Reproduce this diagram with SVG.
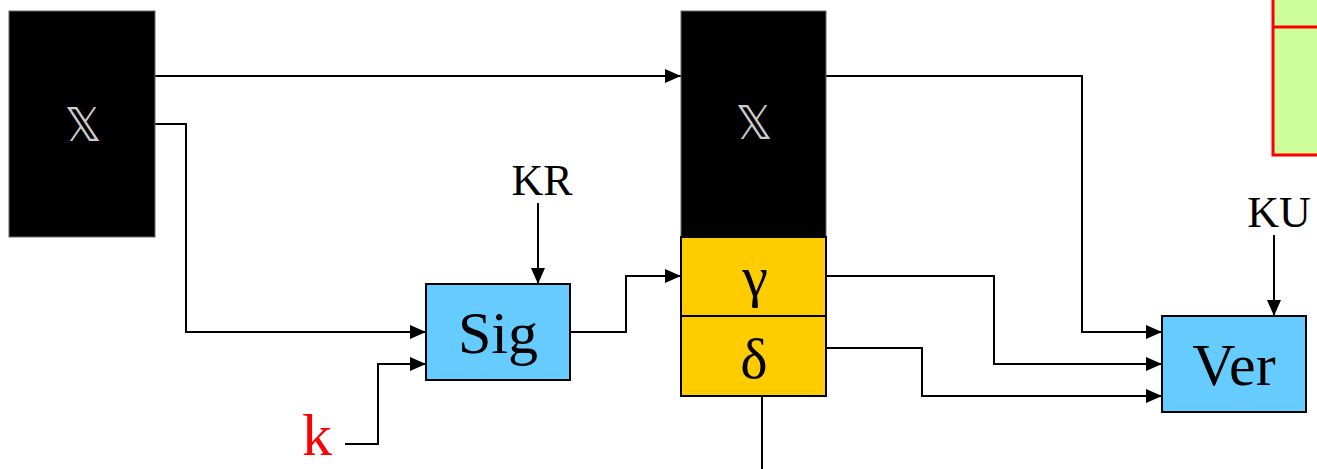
<svg xmlns="http://www.w3.org/2000/svg" width="1317" height="469" viewBox="0 0 1317 469">
<style>
.blk{fill:#000;stroke:#666;stroke-width:1}
.blue{fill:#66ccff;stroke:#000;stroke-width:2}
.yel{fill:#ffcc00;stroke:#000;stroke-width:2}
.ln{fill:none;stroke:#000;stroke-width:2}
.t{font-family:"Liberation Serif","Times New Roman",serif;fill:#000;text-anchor:middle}
.sym{font-family:"DejaVu Sans",sans-serif;fill:#ccc;text-anchor:middle;font-size:46px}
</style>
<defs>
<marker id="ah" markerUnits="userSpaceOnUse" markerWidth="16" markerHeight="14" refX="16" refY="7" orient="auto">
<path d="M0,0 L16,7 L0,14 Z" fill="#000"/>
</marker>
</defs>
<g id="connectors">
<path class="ln" d="M155,76 H681" marker-end="url(#ah)"/>
<path class="ln" d="M155,124 H186 V332 H426" marker-end="url(#ah)"/>
<path class="ln" d="M345,444 H378 V364 H426" marker-end="url(#ah)"/>
<path class="ln" d="M538,203 V284" marker-end="url(#ah)"/>
<path class="ln" d="M570,332 H626 V276 H681" marker-end="url(#ah)"/>
<path class="ln" d="M826,76 H1082 V332 H1162" marker-end="url(#ah)"/>
<path class="ln" d="M826,276 H994 V364 H1162" marker-end="url(#ah)"/>
<path class="ln" d="M826,348 H922 V396 H1162" marker-end="url(#ah)"/>
<path class="ln" d="M1274,235 V316" marker-end="url(#ah)"/>
<path class="ln" d="M762,396 V469"/>
</g>
<g id="x-source">
<rect class="blk" x="9" y="11" width="146" height="226"/>
<text class="sym" x="83" y="141">𝕏</text>
</g>
<g id="message-block">
<rect class="blk" x="681" y="11" width="145" height="226"/>
<text class="sym" x="754" y="139">𝕏</text>
</g>
<g id="gamma">
<rect class="yel" x="681" y="237" width="145" height="79"/>
<text class="t" x="755" y="296" font-size="58">γ</text>
</g>
<g id="delta">
<rect class="yel" x="681" y="316" width="145" height="80"/>
<text class="t" x="754" y="378" font-size="58">δ</text>
</g>
<g id="sig">
<rect class="blue" x="426" y="284" width="144" height="96"/>
<text class="t" x="498" y="353" font-size="60">Sig</text>
</g>
<g id="ver">
<rect class="blue" x="1162" y="316" width="144" height="96"/>
<text class="t" x="1234" y="385" font-size="60">Ver</text>
</g>
<g id="kr"><text class="t" x="542" y="195" font-size="44">KR</text></g>
<g id="ku"><text class="t" x="1279" y="227" font-size="44">KU</text></g>
<g id="k"><text class="t" x="317" y="455" font-size="60" style="fill:#ff0000">k</text></g>
<g id="green-box">
<rect x="1273" y="-5" width="60" height="160" fill="#ccff99" stroke="#ff0000" stroke-width="3"/>
<line x1="1273" y1="27" x2="1317" y2="27" stroke="#ff0000" stroke-width="3"/>
</g>
</svg>
